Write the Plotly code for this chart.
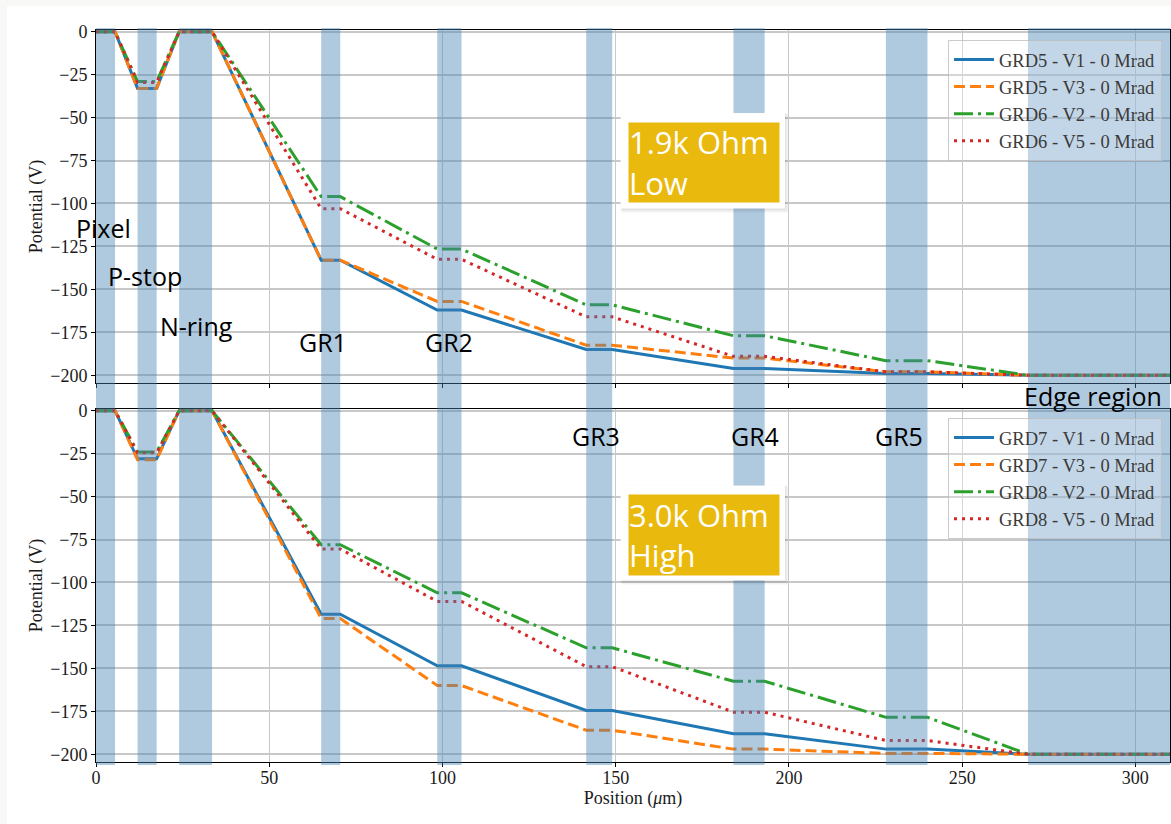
import plotly.graph_objects as go
from plotly.subplots import make_subplots

# ---------------- data ----------------
region_labels = ["Pixel", "P-stop", "N-ring", "GR1", "GR2", "GR3", "GR4", "GR5", "Edge region"]
region_start = [0, 12, 24, 65, 98.5, 141.5, 184, 228, 269]
region_end = [5.5, 17.5, 33.5, 70.5, 105.5, 149, 193, 240, 310]

# potential (V) on each region (flat over the region)
grd5_v1 = [0, -33, 0, -133, -162, -185, -196, -199, -200]
grd5_v3 = [0, -33, 0, -133, -157, -182.5, -190, -198, -200]
grd6_v2 = [0, -29, 0, -96, -126.5, -159, -177, -191.5, -200]
grd6_v5 = [0, -29.5, 0, -103, -132.5, -166, -189, -198, -200]

grd7_v1 = [0, -28, 0, -118.5, -148.5, -174.5, -188, -197, -200]
grd7_v3 = [0, -28.5, 0, -121, -160, -186, -197, -199.5, -200]
grd8_v2 = [0, -24, 0, -78, -106, -138, -157.5, -178.5, -200]
grd8_v5 = [0, -24.5, 0, -80.5, -111, -149, -175.5, -192, -200]

top_names = ["GRD5 - V1 - 0 Mrad", "GRD5 - V3 - 0 Mrad", "GRD6 - V2 - 0 Mrad", "GRD6 - V5 - 0 Mrad"]
bot_names = ["GRD7 - V1 - 0 Mrad", "GRD7 - V3 - 0 Mrad", "GRD8 - V2 - 0 Mrad", "GRD8 - V5 - 0 Mrad"]
box_texts = ["1.9k Ohm<br>Low", "3.0k Ohm<br>High"]
y_ticks = [0, -25, -50, -75, -100, -125, -150, -175, -200]
x_ticks = [0, 50, 100, 150, 200, 250, 300]

# ---------------- helpers ----------------
W, H = 1171, 824
L, R, T, B = 96, 1, 30, 62
PW, PH = W - L - R, H - T - B


def px(xp):
    return (xp - L) / PW


def py(yp):
    return (H - B - yp) / PH


def expand(vals):
    return [v for v in vals for _ in (0, 1)]


xs = [v for s, e in zip(region_start, region_end) for v in (s, e)]

colors = ["#1f77b4", "#ff7f0e", "#2ca02c", "#d62728"]
dashes = ["solid", "11px,5px", "19px,5px,3px,5px", "3px,5px"]

fig = make_subplots(rows=2, cols=1, shared_xaxes=True)

for i, (vals, name) in enumerate(zip([grd5_v1, grd5_v3, grd6_v2, grd6_v5], top_names)):
    fig.add_trace(go.Scatter(x=xs, y=expand(vals), mode="lines", name=name,
                             line=dict(color=colors[i], width=3, dash=dashes[i]),
                             legend="legend"), row=1, col=1)
for i, (vals, name) in enumerate(zip([grd7_v1, grd7_v3, grd8_v2, grd8_v5], bot_names)):
    fig.add_trace(go.Scatter(x=xs, y=expand(vals), mode="lines", name=name,
                             line=dict(color=colors[i], width=3, dash=dashes[i]),
                             legend="legend2"), row=2, col=1)

tick_font = dict(family="Liberation Serif", size=18, color="#1a1a1a")
title_font = dict(family="Liberation Serif", size=18, color="#1a1a1a")

axis_common = dict(showline=True, linecolor="black", linewidth=1, mirror=True,
                   showgrid=True, zeroline=False, ticks="outside", ticklen=4,
                   tickcolor="black", tickfont=tick_font)

fig.update_xaxes(range=[0, 310], tickvals=x_ticks, gridcolor="#c8c8c8", gridwidth=1,
                 ticklabelstandoff=-5, **axis_common)
fig.update_xaxes(showticklabels=False, row=1, col=1)
fig.update_xaxes(title=dict(text="Position (<i>μ</i>m)", font=title_font, standoff=0), row=2, col=1)
fig.update_yaxes(range=[-204.5, 1], tickvals=y_ticks, gridcolor="#c8c8c8", gridwidth=1.5,
                 title=dict(text="Potential (V)", font=title_font, standoff=2), **axis_common)

shapes = []
# outer page strip
shapes.append(dict(type="rect", xref="paper", yref="paper", x0=px(7), x1=px(W + 5), y0=py(H + 5), y1=py(6),
                   fillcolor="white", line=dict(width=0), layer="below"))
for s, e in zip(region_start, region_end):
    shapes.append(dict(type="rect", xref="x", yref="paper", x0=s, x1=e, y0=py(765), y1=py(28),
                       fillcolor="rgba(70,130,180,0.43)", line=dict(width=0), layer="above"))
# white framed boxes with soft shadow
for (x0, y0, x1, y1) in [(620.5, 113, 785, 208.5), (620.5, 485.5, 785, 580.5)]:
    shapes.append(dict(type="rect", xref="paper", yref="paper", x0=px(x0 + 1), x1=px(x1 + 3),
                       y0=py(y1 + 4), y1=py(y0 + 1), fillcolor="rgba(0,0,0,0.05)", line=dict(width=0), layer="above"))
    shapes.append(dict(type="rect", xref="paper", yref="paper", x0=px(x0), x1=px(x1 + 1.5),
                       y0=py(y1 + 2), y1=py(y0), fillcolor="rgba(0,0,0,0.06)", line=dict(width=0), layer="above"))
    shapes.append(dict(type="rect", xref="paper", yref="paper", x0=px(x0), x1=px(x1),
                       y0=py(y1), y1=py(y0), fillcolor="white", line=dict(width=0), layer="above"))

annotations = []
label_px = [(103, 228), (145, 276), (196, 326), (323, 342), (449, 342), (596, 436), (755, 436), (899, 436), (1093, 396)]
for text, (cx, cy) in zip(region_labels, label_px):
    annotations.append(dict(text=text, xref="paper", yref="paper", x=px(cx), y=py(cy),
                            xanchor="center", yanchor="middle", showarrow=False,
                            font=dict(family="Open Sans", size=25, color="black")))
for text, (x0, y0, x1, y1) in zip(box_texts, [(628, 121.5, 778, 200.5), (628, 493.5, 778, 573)]):
    annotations.append(dict(text=text, xref="paper", yref="paper", x=px(x0), y=py(y0),
                            xanchor="left", yanchor="top", showarrow=False, align="left",
                            width=x1 - x0, height=y1 - y0, bgcolor="#e9b90e", borderpad=0,
                            font=dict(family="Open Sans", size=31, color="white")))

legend_common = dict(xanchor="right", yanchor="top", bgcolor="rgba(255,255,255,0.25)",
                     bordercolor="rgba(190,190,190,0.8)", borderwidth=1, itemwidth=40,
                     font=dict(family="Liberation Serif", size=18.5, color="#3a3a3a"),
                     tracegroupgap=0)

fig.update_layout(
    width=W, height=H,
    margin=dict(l=L, r=R, t=T, b=B),
    paper_bgcolor="#f8f8f6",
    plot_bgcolor="white",
    showlegend=True,
    legend=dict(x=px(1162), y=py(40), **legend_common),
    legend2=dict(x=px(1162), y=py(418), **legend_common),
    shapes=shapes,
    annotations=annotations,
)
fig.update_layout(yaxis=dict(domain=[py(383), py(30)]), yaxis2=dict(domain=[py(762), py(409)]))

fig.write_html("out.html", config={"displayModeBar": False},
               post_script="document.body.style.margin='0px';")
